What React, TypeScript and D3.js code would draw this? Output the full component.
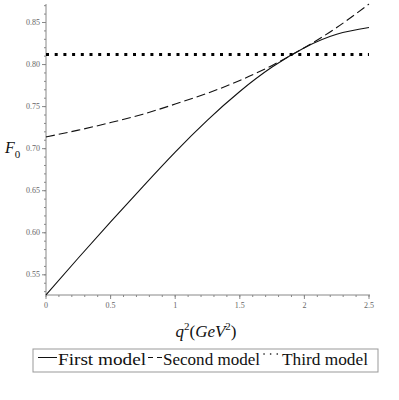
import React, { useEffect, useRef } from 'react';
import * as d3 from 'd3';

// q^2 in GeV^2
const qValues = [0, 0.25, 0.5, 0.75, 1.0, 1.25, 1.5, 1.75, 2.0, 2.25, 2.5];
const firstModel = [0.526, 0.57, 0.613, 0.655, 0.696, 0.734, 0.768, 0.797, 0.82, 0.836, 0.844];
const secondModel = [0.714, 0.722, 0.731, 0.741, 0.753, 0.766, 0.781, 0.799, 0.82, 0.844, 0.872];
const thirdModel = [0.812, 0.812];
const thirdQ = [0, 2.5];
const xTicks = [0, 0.5, 1, 1.5, 2, 2.5];
const yTicks = [0.55, 0.6, 0.65, 0.7, 0.75, 0.8, 0.85];
const legendLabels = ['First model', 'Second model', 'Third model'];

const W = 399;
const H = 400;
const serif = "'Liberation Serif', 'Times New Roman', serif";

const Chart = () => {
  const ref = useRef<SVGSVGElement>(null);

  useEffect(() => {
    const svg = d3.select(ref.current);
    svg.selectAll('*').remove();

    const x = d3.scaleLinear().domain([0, 2.5]).range([46, 369]);
    const y = d3.scaleLinear().domain([0.526, 0.872]).range([295, 4]);
    const axisColor = '#888';
    const labelColor = '#666';

    const line = d3.line<[number, number]>()
      .x(d => x(d[0]))
      .y(d => y(d[1]))
      .curve(d3.curveNatural);

    // axes
    svg.append('line')
      .attr('x1', x(0)).attr('x2', x(0))
      .attr('y1', y(0.526)).attr('y2', y(0.872))
      .attr('stroke', axisColor).attr('stroke-width', 1);
    svg.append('line')
      .attr('x1', x(0)).attr('x2', x(2.5) + 1)
      .attr('y1', y(0.526)).attr('y2', y(0.526))
      .attr('stroke', axisColor).attr('stroke-width', 1);

    // minor + major ticks on y
    const yMinor = d3.range(53, 88).map(v => v / 100);
    svg.selectAll('.ymin').data(yMinor).enter().append('line')
      .attr('x1', x(0) - 2).attr('x2', x(0))
      .attr('y1', d => y(d)).attr('y2', d => y(d))
      .attr('stroke', axisColor);
    svg.selectAll('.ymaj').data(yTicks).enter().append('line')
      .attr('x1', x(0) - 4).attr('x2', x(0))
      .attr('y1', d => y(d)).attr('y2', d => y(d))
      .attr('stroke', axisColor);
    svg.selectAll('.ylab').data(yTicks).enter().append('text')
      .attr('x', x(0) - 6).attr('y', d => y(d) + 2.5)
      .attr('text-anchor', 'end')
      .attr('font-family', serif)
      .attr('font-size', 8).attr('fill', labelColor)
      .text(d => d3.format('.2f')(d));

    const xMinor = d3.range(0, 26).map(v => v / 10);
    svg.selectAll('.xmin').data(xMinor).enter().append('line')
      .attr('x1', d => x(d)).attr('x2', d => x(d))
      .attr('y1', y(0.526)).attr('y2', y(0.526) + 2)
      .attr('stroke', axisColor);
    svg.selectAll('.xmaj').data(xTicks).enter().append('line')
      .attr('x1', d => x(d)).attr('x2', d => x(d))
      .attr('y1', y(0.526)).attr('y2', y(0.526) + 4)
      .attr('stroke', axisColor);
    svg.selectAll('.xlab').data(xTicks).enter().append('text')
      .attr('x', d => x(d)).attr('y', y(0.526) + 13)
      .attr('text-anchor', 'middle')
      .attr('font-family', serif)
      .attr('font-size', 8).attr('fill', labelColor)
      .text(d => String(d));

    // curves
    svg.append('path')
      .datum(qValues.map((q, i) => [q, firstModel[i]] as [number, number]))
      .attr('fill', 'none').attr('stroke', '#111').attr('stroke-width', 1.1)
      .attr('d', line);
    svg.append('path')
      .datum(qValues.map((q, i) => [q, secondModel[i]] as [number, number]))
      .attr('fill', 'none').attr('stroke', '#111').attr('stroke-width', 1.1)
      .attr('stroke-dasharray', '9,4')
      .attr('d', line);
    svg.append('path')
      .datum(thirdQ.map((q, i) => [q, thirdModel[i]] as [number, number]))
      .attr('fill', 'none').attr('stroke', '#000').attr('stroke-width', 3)
      .attr('stroke-dasharray', '3,5.7')
      .attr('d', line);

    // axis titles
    const fl = svg.append('text')
      .attr('x', 5).attr('y', 153)
      .attr('font-family', serif)
      .attr('font-size', 16).attr('fill', '#111');
    fl.append('tspan').attr('font-style', 'italic').text('F');
    fl.append('tspan').attr('dy', 5).attr('font-size', 11).text('0');

    const xl = svg.append('text')
      .attr('x', 206).attr('y', 337)
      .attr('text-anchor', 'middle')
      .attr('font-family', serif)
      .attr('font-size', 17).attr('fill', '#111');
    xl.append('tspan').attr('font-style', 'italic').text('q');
    xl.append('tspan').attr('dy', -7).attr('font-size', 11).text('2');
    xl.append('tspan').attr('dy', 7).text('(');
    xl.append('tspan').attr('font-style', 'italic').text('GeV');
    xl.append('tspan').attr('dy', -7).attr('font-size', 11).text('2');
    xl.append('tspan').attr('dy', 7).text(')');

    // legend
    svg.append('rect')
      .attr('x', 33).attr('y', 349).attr('width', 345).attr('height', 23)
      .attr('fill', 'none').attr('stroke', '#999').attr('stroke-width', 1);
    const ly = 357.5;
    svg.append('line').attr('x1', 38).attr('x2', 57).attr('y1', ly).attr('y2', ly)
      .attr('stroke', '#111').attr('stroke-width', 1);
    svg.append('line').attr('x1', 148).attr('x2', 162).attr('y1', ly).attr('y2', ly)
      .attr('stroke', '#111').attr('stroke-width', 1).attr('stroke-dasharray', '5,4');
    svg.append('line').attr('x1', 264).attr('x2', 281).attr('y1', 354).attr('y2', 354)
      .attr('stroke', '#111').attr('stroke-width', 1.6).attr('stroke-linecap', 'round')
      .attr('stroke-dasharray', '0.1,6.5');
    const legendX = [58, 163, 282];
    const legendW = [88, 97, 86];
    legendLabels.forEach((t, i) => {
      svg.append('text')
        .attr('x', legendX[i]).attr('y', 365)
        .attr('font-family', serif)
        .attr('font-size', 16).attr('fill', '#111')
        .attr('textLength', legendW[i]).attr('lengthAdjust', 'spacingAndGlyphs')
        .text(t);
    });
  }, []);

  return (
    <svg ref={ref} width={W} height={H}
      style={{ position: 'absolute', left: 0, top: 0, background: '#fff' }} />
  );
};

export default function App() {
  return <Chart />;
}
